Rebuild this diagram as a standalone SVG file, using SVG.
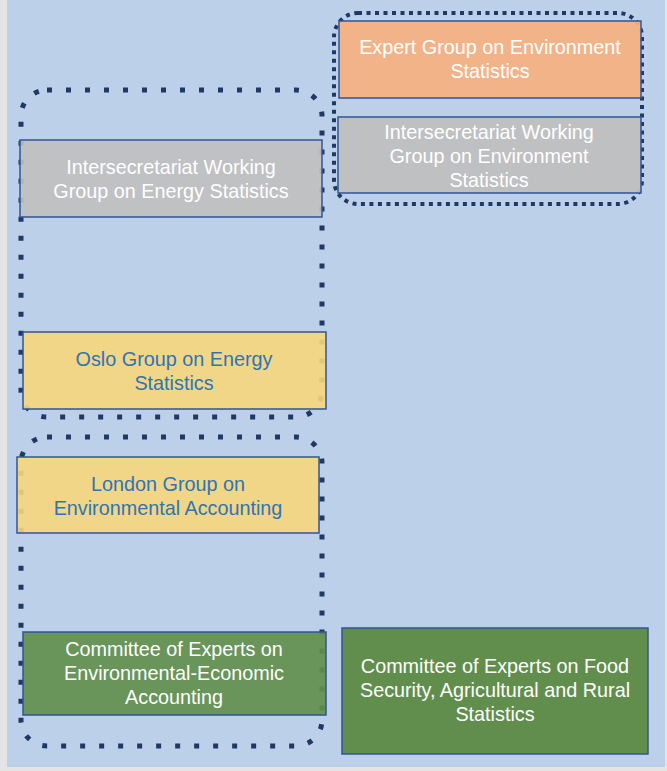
<svg xmlns="http://www.w3.org/2000/svg" width="667" height="771" viewBox="0 0 667 771">
<style>
.box{stroke:#2F5597;stroke-width:1.5}
.frame{fill:none;stroke:#203864;stroke-width:5;stroke-dasharray:5 14}
.frame2{fill:none;stroke:#203864;stroke-width:4;stroke-dasharray:4 4.5}
text{font-family:"Liberation Sans",Arial,sans-serif;font-size:19.8px;text-anchor:middle}
.w{fill:#FFFFFF}
.b{fill:#2E75B6}
</style>
<rect x="0" y="0" width="667" height="771" fill="#E4E4E4"/>
<rect x="7" y="0" width="658" height="767" fill="#BDD0E9"/>
<g id="frames">
<rect class="frame" x="21" y="90" width="301" height="327" rx="26"/>
<rect class="frame" x="21" y="437" width="301" height="309" rx="26"/>
<rect class="frame2" x="334" y="13" width="308" height="191" rx="24"/>
</g>
<g id="expert-group-env">
<rect class="box" x="339" y="21" width="302" height="77" fill="#F4B183" fill-opacity="0.95"/>
<text class="w" x="490" y="54">Expert Group on Environment</text>
<text class="w" x="490" y="78">Statistics</text>
</g>
<g id="iswg-env">
<rect class="box" x="338" y="117" width="303" height="76" fill="#BFBFBF" fill-opacity="0.95"/>
<text class="w" x="489" y="139">Intersecretariat Working</text>
<text class="w" x="489" y="163">Group on Environment</text>
<text class="w" x="489" y="187">Statistics</text>
</g>
<g id="iswg-energy">
<rect class="box" x="20" y="140" width="302" height="77" fill="#BFBFBF" fill-opacity="0.9"/>
<text class="w" x="171" y="174">Intersecretariat Working</text>
<text class="w" x="171" y="198">Group on Energy Statistics</text>
</g>
<g id="oslo-group">
<rect class="box" x="23" y="332" width="303" height="77" fill="#F5D67B" fill-opacity="0.9"/>
<text class="b" x="174" y="366">Oslo Group on Energy</text>
<text class="b" x="174" y="390">Statistics</text>
</g>
<g id="london-group">
<rect class="box" x="17" y="457" width="302" height="76" fill="#F5D67B" fill-opacity="0.9"/>
<text class="b" x="168" y="491">London Group on</text>
<text class="b" x="168" y="515">Environmental Accounting</text>
</g>
<g id="ceeea">
<rect class="box" x="23" y="632" width="303" height="83" fill="#628E4D" fill-opacity="0.92"/>
<text class="w" x="174" y="656">Committee of Experts on</text>
<text class="w" x="174" y="680">Environmental-Economic</text>
<text class="w" x="174" y="704">Accounting</text>
</g>
<g id="ce-food">
<rect class="box" x="342" y="628" width="306" height="126" fill="#628E4D"/>
<text class="w" x="495" y="673">Committee of Experts on Food</text>
<text class="w" x="495" y="697">Security, Agricultural and Rural</text>
<text class="w" x="495" y="721">Statistics</text>
</g>
<g id="connectors"></g>
</svg>
